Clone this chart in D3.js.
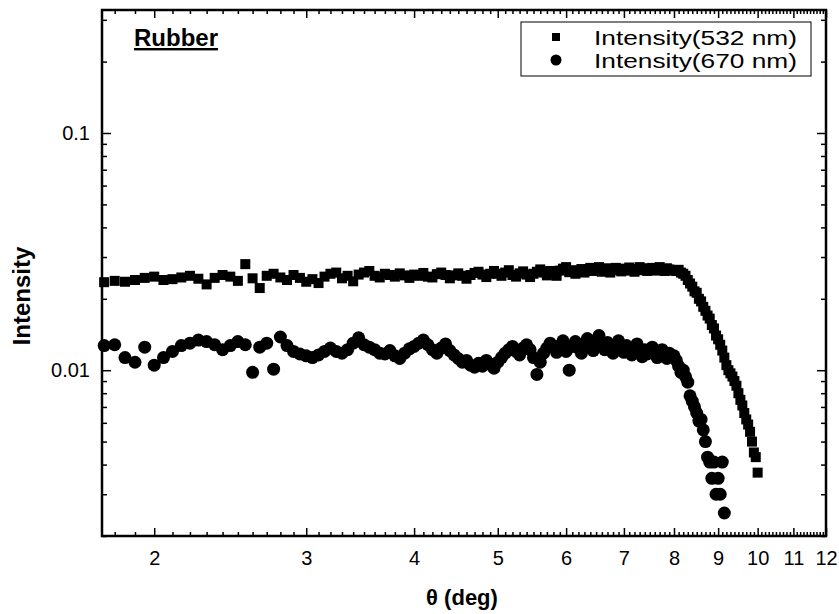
<!DOCTYPE html>
<html>
<head>
<meta charset="utf-8">
<script src="https://cdn.jsdelivr.net/npm/d3@7"></script>
<style>
  body { margin: 0; background: #fff; }
  text { font-family: "Liberation Sans", Arial, sans-serif; fill: #000; }
  .axis .domain { display: none; }
  .axis .tick line { stroke: #000; stroke-width: 1.5; }
  .axis text { font-size: 20px; }
</style>
</head>
<body>
<div id="chart"></div>
<script>
// scattering angle (deg), 0.05 deg steps
var theta = [
  1.75, 1.80, 1.85, 1.90, 1.95,
  2.00, 2.05, 2.10, 2.15, 2.20, 2.25, 2.30, 2.35, 2.40, 2.45,
  2.50, 2.55, 2.60, 2.65, 2.70, 2.75, 2.80, 2.85, 2.90, 2.95,
  3.00, 3.05, 3.10, 3.15, 3.20, 3.25, 3.30, 3.35, 3.40, 3.45,
  3.50, 3.55, 3.60, 3.65, 3.70, 3.75, 3.80, 3.85, 3.90, 3.95,
  4.00, 4.05, 4.10, 4.15, 4.20, 4.25, 4.30, 4.35, 4.40, 4.45,
  4.50, 4.55, 4.60, 4.65, 4.70, 4.75, 4.80, 4.85, 4.90, 4.95,
  5.00, 5.05, 5.10, 5.15, 5.20, 5.25, 5.30, 5.35, 5.40, 5.45,
  5.50, 5.55, 5.60, 5.65, 5.70, 5.75, 5.80, 5.85, 5.90, 5.95,
  6.00, 6.05, 6.10, 6.15, 6.20, 6.25, 6.30, 6.35, 6.40, 6.45,
  6.50, 6.55, 6.60, 6.65, 6.70, 6.75, 6.80, 6.85, 6.90, 6.95,
  7.00, 7.05, 7.10, 7.15, 7.20, 7.25, 7.30, 7.35, 7.40, 7.45,
  7.50, 7.55, 7.60, 7.65, 7.70, 7.75, 7.80, 7.85, 7.90, 7.95,
  8.00, 8.05, 8.10, 8.15, 8.20, 8.25, 8.30, 8.35, 8.40, 8.45,
  8.50, 8.55, 8.60, 8.65, 8.70, 8.75, 8.80, 8.85, 8.90, 8.95,
  9.00, 9.05, 9.10, 9.15, 9.20, 9.25, 9.30, 9.35, 9.40, 9.45,
  9.50, 9.55, 9.60, 9.65, 9.70, 9.75, 9.80, 9.85, 9.90, 9.95,
  10.00
];

// Intensity(532 nm) - squares
var intensity532 = [
  0.0235, 0.0238, 0.0236, 0.0240, 0.0245,
  0.0248, 0.0240, 0.0242, 0.0246, 0.0250, 0.0243, 0.0230, 0.0245, 0.0252, 0.0248,
  0.0238, 0.0280, 0.0244, 0.0222, 0.0250, 0.0255, 0.0246, 0.0240, 0.0252, 0.0245,
  0.0236, 0.0242, 0.0233, 0.0248, 0.0255, 0.0258, 0.0244, 0.0250, 0.0237, 0.0253,
  0.0258, 0.0262, 0.0250, 0.0246, 0.0255, 0.0252, 0.0248, 0.0256, 0.0251, 0.0245,
  0.0253, 0.0250, 0.0257, 0.0248, 0.0246, 0.0254, 0.0258, 0.0252, 0.0244, 0.0251,
  0.0256, 0.0250, 0.0243, 0.0252, 0.0257, 0.0260, 0.0253, 0.0247, 0.0255, 0.0262,
  0.0255, 0.0250, 0.0258, 0.0264, 0.0252, 0.0248, 0.0256, 0.0261, 0.0253, 0.0247,
  0.0255, 0.0260, 0.0266, 0.0258, 0.0251, 0.0262, 0.0257, 0.0250, 0.0263, 0.0268,
  0.0272, 0.0259, 0.0264, 0.0255, 0.0261, 0.0267, 0.0258, 0.0263, 0.0270, 0.0262,
  0.0266, 0.0272, 0.0260, 0.0265, 0.0269, 0.0258, 0.0264, 0.0270, 0.0266, 0.0261,
  0.0268, 0.0263, 0.0271, 0.0265, 0.0260, 0.0267, 0.0272, 0.0264, 0.0269, 0.0262,
  0.0266, 0.0270, 0.0263, 0.0268, 0.0272, 0.0265, 0.0262, 0.0269, 0.0266, 0.0263,
  0.0264, 0.0262, 0.0265, 0.0258, 0.0255, 0.0250, 0.0240, 0.0232, 0.0225, 0.0215,
  0.0212, 0.0200, 0.0195, 0.0185, 0.0178, 0.0170, 0.0165, 0.0155, 0.0150, 0.0140,
  0.0135, 0.0128, 0.0121, 0.0113, 0.0105, 0.0100, 0.0097, 0.0094, 0.0090, 0.0086,
  0.0080, 0.0075, 0.0071, 0.0066, 0.0062, 0.0059, 0.0055, 0.0050, 0.0045, 0.0043,
  0.0037
];

// Intensity(670 nm) - circles (ends at 9.15 deg)
var intensity670 = [
  0.0127, 0.0128, 0.0113, 0.0108, 0.0125,
  0.0105, 0.0113, 0.0120, 0.0127, 0.0130, 0.0134, 0.0132, 0.0128, 0.0122, 0.0127,
  0.0132, 0.0128, 0.0098, 0.0125, 0.0130, 0.0101, 0.0138, 0.0127, 0.0120, 0.0117,
  0.0115, 0.0113, 0.0116, 0.0120, 0.0124, 0.0120, 0.0118, 0.0122, 0.0130, 0.0137,
  0.0128, 0.0125, 0.0122, 0.0118, 0.0117, 0.0121, 0.0115, 0.0112, 0.0118, 0.0123,
  0.0126, 0.0130, 0.0134, 0.0128, 0.0122, 0.0118, 0.0124, 0.0129, 0.0121, 0.0116,
  0.0112, 0.0108, 0.0110, 0.0105, 0.0103, 0.0107, 0.0104, 0.0110, 0.0106, 0.0102,
  0.0108, 0.0113, 0.0118, 0.0122, 0.0126, 0.0120, 0.0116, 0.0124, 0.0128, 0.0122,
  0.0113, 0.0096, 0.0108, 0.0118, 0.0124, 0.0130, 0.0125, 0.0119, 0.0127, 0.0133,
  0.0120, 0.0100, 0.0126, 0.0132, 0.0124, 0.0118, 0.0129, 0.0136, 0.0128, 0.0121,
  0.0134, 0.0140, 0.0127, 0.0122, 0.0131, 0.0125, 0.0118, 0.0126, 0.0133, 0.0124,
  0.0119, 0.0127, 0.0121, 0.0116, 0.0124, 0.0129, 0.0120, 0.0114, 0.0122, 0.0117,
  0.0121, 0.0125, 0.0118, 0.0113, 0.0119, 0.0122, 0.0116, 0.0112, 0.0118, 0.0114,
  0.0115, 0.0110, 0.0104, 0.0098, 0.0100, 0.0094, 0.0089, 0.0078, 0.0074, 0.0070,
  0.0066, 0.0061, 0.0062, 0.0056, 0.0050, 0.0043, 0.0041, 0.0035, 0.0041, 0.0030,
  0.0035, 0.0030, 0.0041, 0.0025
];

var xTickLabels = [2, 3, 4, 5, 6, 7, 8, 9, 10, 11, 12];
var yTickLabels = [0.01, 0.1];
var seriesNames = ["Intensity(532 nm)", "Intensity(670 nm)"];

// set the dimensions and margins of the graph
var margin = {top: 10, right: 13, bottom: 78, left: 102},
    width = 839 - margin.left - margin.right,
    height = 614 - margin.top - margin.bottom;

var svg = d3.select("#chart").append("svg")
  .attr("width", width + margin.left + margin.right)
  .attr("height", height + margin.top + margin.bottom)
  .append("g")
  .attr("transform", "translate(" + margin.left + "," + margin.top + ")");

var x = d3.scaleLog().domain([1.74, 12]).range([0, width]);
var y = d3.scaleLog().domain([0.002, 0.33]).range([height, 0]);

// minor ticks every 0.1 deg, and 2..9 per decade on y
var xMinor = d3.range(18, 120).map(d => d / 10).filter(d => d % 1 !== 0);
var yMinor = [0.002, 0.003, 0.004, 0.005, 0.006, 0.007, 0.008, 0.009,
              0.02, 0.03, 0.04, 0.05, 0.06, 0.07, 0.08, 0.09, 0.2, 0.3];

// bottom axis
svg.append("g").attr("class", "axis")
  .attr("transform", `translate(0, ${height})`)
  .call(d3.axisBottom(x).tickValues(xMinor).tickSize(-4).tickFormat(""));
svg.append("g").attr("class", "axis")
  .attr("transform", `translate(0, ${height})`)
  .call(d3.axisBottom(x).tickValues(xTickLabels).tickSize(-8).tickPadding(15)
    .tickFormat(d3.format("d")));

// top axis (mirror)
svg.append("g").attr("class", "axis")
  .call(d3.axisTop(x).tickValues(xMinor).tickSize(-4).tickFormat(""));
svg.append("g").attr("class", "axis")
  .call(d3.axisTop(x).tickValues(xTickLabels).tickSize(-8).tickFormat(""));

// left axis
svg.append("g").attr("class", "axis")
  .call(d3.axisLeft(y).tickValues(yMinor).tickSize(-5).tickFormat(""));
svg.append("g").attr("class", "axis")
  .call(d3.axisLeft(y).tickValues(yTickLabels).tickSize(-9).tickPadding(12)
    .tickFormat(d => d));

// right axis (mirror)
svg.append("g").attr("class", "axis")
  .attr("transform", `translate(${width}, 0)`)
  .call(d3.axisRight(y).tickValues(yMinor).tickSize(-5).tickFormat(""));
svg.append("g").attr("class", "axis")
  .attr("transform", `translate(${width}, 0)`)
  .call(d3.axisRight(y).tickValues(yTickLabels).tickSize(-9).tickFormat(""));

// frame
svg.append("rect")
  .attr("width", width)
  .attr("height", height)
  .attr("fill", "none")
  .attr("stroke", "#000")
  .attr("stroke-width", 2.5);

var data532 = intensity532.map((v, i) => ({t: theta[i], v: v}));
var data670 = intensity670.map((v, i) => ({t: theta[i], v: v}));

var plot = svg.append("g");

plot.selectAll(".sq").data(data532).enter().append("rect")
  .attr("class", "sq")
  .attr("x", d => x(d.t) - 5)
  .attr("y", d => y(d.v) - 5)
  .attr("width", 10)
  .attr("height", 10)
  .attr("fill", "#000");

plot.selectAll(".ci").data(data670).enter().append("circle")
  .attr("class", "ci")
  .attr("cx", d => x(d.t))
  .attr("cy", d => y(d.v))
  .attr("r", 6.5)
  .attr("fill", "#000");

// sample label
svg.append("text")
  .attr("x", 32)
  .attr("y", 36)
  .style("font-size", "24px")
  .style("font-weight", "bold")
  .style("text-decoration", "underline")
  .text("Rubber");

// legend
var legend = svg.append("g").attr("transform", "translate(419, 12)");
legend.append("rect")
  .attr("width", 290)
  .attr("height", 54)
  .attr("fill", "#fff")
  .attr("stroke", "#000")
  .attr("stroke-width", 1);
legend.append("rect")
  .attr("x", 31).attr("y", 11).attr("width", 8).attr("height", 8)
  .attr("fill", "#000");
legend.append("circle")
  .attr("cx", 35).attr("cy", 38).attr("r", 5.5)
  .attr("fill", "#000");
legend.selectAll(".lt").data(seriesNames).enter().append("text")
  .attr("class", "lt")
  .attr("x", 73)
  .attr("y", (d, i) => 23 + i * 23)
  .attr("textLength", 203)
  .attr("lengthAdjust", "spacingAndGlyphs")
  .style("font-size", "20px")
  .text(d => d);

// Append axes titles
svg.append("text")
  .attr("transform", `translate(${width / 2 - 2}, ${height + 69})`)
  .attr("text-anchor", "middle")
  .style("font-size", "22px")
  .style("font-weight", "bold")
  .text("θ (deg)");

svg.append("text")
  .attr("transform", `translate(-72, 286) rotate(-90)`)
  .attr("text-anchor", "middle")
  .style("font-size", "24px")
  .style("font-weight", "bold")
  .text("Intensity");
</script>
</body>
</html>
